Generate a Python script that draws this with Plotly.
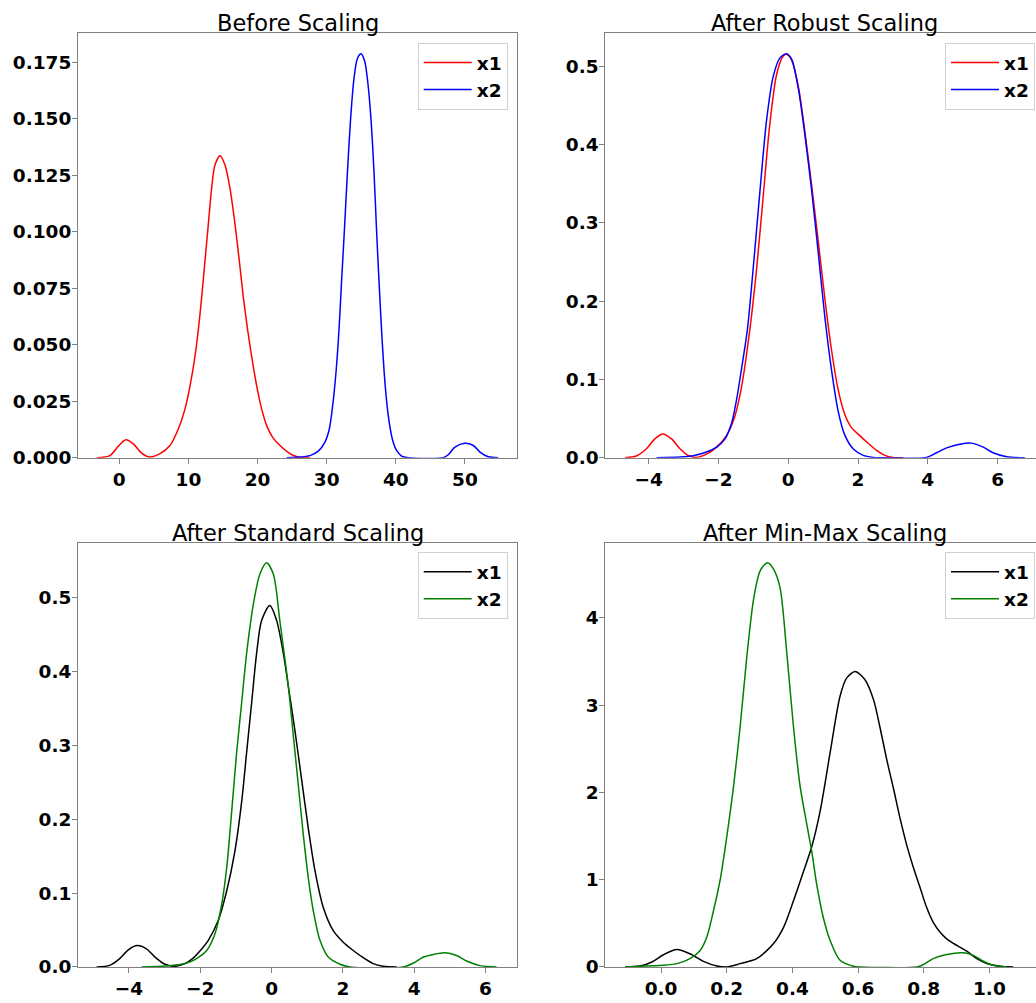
import plotly.graph_objects as go

FONT = "DejaVu Sans"

# ---- Before scaling ----
before_x1_x = [-3.28, -1.35, -0.14, 0.96, 2.03, 3.23, 4.44, 5.89, 7.33, 8.54, 9.50, 10.23, 10.95, 11.43,
               11.92, 12.40, 12.88, 13.36, 13.84, 14.57, 15.29, 16.01, 16.74, 17.36, 17.94, 18.57, 19.15,
               19.88, 20.60, 21.32, 22.19, 23.25, 24.69, 25.6, 26.4, 27.58]
before_x1_y = [0, 0.0009, 0.0051, 0.0079, 0.0061, 0.0020, 0.0003, 0.0018, 0.0054, 0.0127, 0.0215, 0.0317,
               0.0448, 0.0565, 0.0711, 0.0872, 0.1033, 0.1193, 0.1296, 0.1337, 0.1296, 0.1193, 0.1033,
               0.0872, 0.0711, 0.0565, 0.0448, 0.0317, 0.0215, 0.0142, 0.0090, 0.0054, 0.0018, 0.0005,
               0, 0]
before_x2_x = [24.20, 26.13, 27.58, 28.78, 29.75, 30.38, 30.86, 31.34, 31.78, 32.16, 32.55, 32.98, 33.46,
               33.94, 34.43, 34.96, 35.49, 35.97, 36.40, 36.84, 37.22, 37.61, 37.99, 38.43, 38.91, 39.49,
               40.11, 40.84, 41.80, 46.86, 47.58, 48.55, 49.99, 51.21, 52.17, 53.38, 54.82]
before_x2_y = [0, 0.0003, 0.0009, 0.0029, 0.0069, 0.0127, 0.0229, 0.0375, 0.0565, 0.0785, 0.1001, 0.1252,
               0.1501, 0.1676, 0.1766, 0.1788, 0.1756, 0.1654, 0.1501, 0.1267, 0.1001, 0.0755, 0.0536,
               0.0332, 0.0186, 0.0083, 0.0032, 0.0007, 0, 0, 0.0013, 0.0047, 0.0064, 0.0054, 0.0025,
               0.0004, 0]

# ---- After robust scaling ----
robust_x1_x = [-4.68, -4.35, -4.06, -3.82, -3.60, -3.34, -3.10, -2.87, -2.63, -2.34, -2.05, -1.77, -1.53,
               -1.34, -1.10, -0.91, -0.72, -0.53, -0.33, -0.14, -0.03, 0.10, 0.29, 0.48, 0.67, 0.86, 1.05,
               1.24, 1.43, 1.62, 1.81, 2.05, 2.29, 2.53, 2.77, 3.01, 3.30]
robust_x1_y = [0, 0.0021, 0.0114, 0.0240, 0.0304, 0.0240, 0.0114, 0.0030, 0.0004, 0.0046, 0.0135, 0.0282,
               0.0527, 0.0894, 0.1632, 0.2390, 0.3318, 0.4245, 0.4899, 0.5131, 0.5152, 0.5080, 0.4743,
               0.4161, 0.3487, 0.2770, 0.2032, 0.1379, 0.0873, 0.0556, 0.0388, 0.0282, 0.0185, 0.0093,
               0.0030, 0.0004, 0]
robust_x2_x = [-3.77, -3.10, -2.72, -2.34, -2.05, -1.81, -1.62, -1.48, -1.34, -1.17, -1.00, -0.81, -0.62,
               -0.43, -0.24, -0.05, 0.10, 0.29, 0.48, 0.67, 0.86, 1.05, 1.24, 1.43, 1.62, 1.86, 2.15, 2.44,
               2.63, 3.96, 4.25, 4.54, 4.92, 5.25, 5.59, 5.87, 6.26, 6.78]
robust_x2_y = [0, 0.0008, 0.0025, 0.0072, 0.0135, 0.0240, 0.0443, 0.0738, 0.1126, 0.1632, 0.2433, 0.3402,
               0.4309, 0.4869, 0.5105, 0.5160, 0.5089, 0.4718, 0.4119, 0.3423, 0.2622, 0.1800, 0.1126,
               0.0599, 0.0291, 0.0114, 0.0030, 0.0004, 0, 0.0004, 0.0063, 0.0126, 0.0173, 0.0186, 0.0135,
               0.0063, 0.0013, 0]

# ---- After standard scaling ----
standard_x1_x = [-4.91, -4.54, -4.26, -4.02, -3.77, -3.51, -3.27, -2.99, -2.71, -2.43, -2.20, -2.01, -1.78,
                 -1.50, -1.26, -1.03, -0.84, -0.70, -0.56, -0.42, -0.28, -0.05, 0.14, 0.33, 0.47, 0.65,
                 0.84, 1.03, 1.22, 1.45, 1.73, 2.01, 2.29, 2.57, 2.85, 3.13, 3.51]
standard_x1_y = [0, 0.0022, 0.0112, 0.0232, 0.0290, 0.0246, 0.0134, 0.0036, 0.0009, 0.0045, 0.0120, 0.0215,
                 0.0357, 0.0625, 0.1027, 0.1563, 0.2232, 0.2902, 0.3571, 0.4241, 0.4688, 0.4888, 0.4688,
                 0.4241, 0.3795, 0.3214, 0.2545, 0.1875, 0.1295, 0.0804, 0.0491, 0.0335, 0.0223, 0.0125,
                 0.0045, 0.0009, 0]
standard_x2_x = [-3.65, -2.95, -2.53, -2.25, -2.01, -1.82, -1.59, -1.40, -1.26, -1.12, -0.98, -0.84, -0.70,
                 -0.51, -0.33, -0.14, 0.05, 0.23, 0.47, 0.61, 0.75, 0.89, 1.03, 1.17, 1.36, 1.59, 1.92,
                 2.20, 3.70, 3.98, 4.26, 4.54, 4.86, 5.19, 5.47, 5.85, 6.31]
standard_x2_y = [0, 0.0013, 0.0036, 0.0076, 0.0143, 0.0223, 0.0446, 0.0848, 0.1339, 0.2098, 0.2902, 0.3571,
                 0.4241, 0.4911, 0.5313, 0.5469, 0.5313, 0.4688, 0.3795, 0.3125, 0.2455, 0.1786, 0.1205,
                 0.0759, 0.0357, 0.0134, 0.0036, 0, 0, 0.0054, 0.0134, 0.0170, 0.0192, 0.0156, 0.0080,
                 0.0018, 0]

# ---- After min-max scaling ----
minmax_x1_x = [-0.110, -0.064, -0.028, 0.007, 0.048, 0.088, 0.129, 0.170, 0.200, 0.241, 0.291, 0.342,
               0.373, 0.403, 0.434, 0.459, 0.484, 0.515, 0.545, 0.565, 0.591, 0.621, 0.647, 0.667, 0.687,
               0.708, 0.728, 0.748, 0.769, 0.789, 0.809, 0.829, 0.850, 0.870, 0.901, 0.931, 0.962, 0.992,
               1.033, 1.073]
minmax_x1_y = [0, 0.011, 0.057, 0.140, 0.200, 0.151, 0.064, 0.011, 0, 0.038, 0.095, 0.265, 0.454, 0.756,
               1.096, 1.380, 1.777, 2.457, 3.100, 3.308, 3.384, 3.289, 3.062, 2.740, 2.381, 2.041, 1.701,
               1.399, 1.134, 0.907, 0.680, 0.510, 0.397, 0.322, 0.246, 0.181, 0.095, 0.039, 0.008, 0]
minmax_x2_x = [-0.110, -0.044, 0.007, 0.048, 0.088, 0.119, 0.139, 0.159, 0.180, 0.200, 0.221, 0.241,
               0.261, 0.282, 0.302, 0.324, 0.342, 0.362, 0.383, 0.403, 0.423, 0.444, 0.459, 0.474, 0.494,
               0.515, 0.545, 0.586, 0.606, 0.779, 0.799, 0.829, 0.870, 0.921, 0.951, 0.982, 1.012, 1.053]
minmax_x2_y = [0, 0.011, 0.019, 0.038, 0.095, 0.189, 0.340, 0.635, 1.0, 1.49, 2.08, 2.76, 3.55, 4.22,
               4.54, 4.63, 4.56, 4.35, 3.59, 2.76, 2.08, 1.63, 1.32, 0.945, 0.567, 0.302, 0.076, 0.008, 0,
               0, 0.027, 0.095, 0.144, 0.163, 0.133, 0.065, 0.019, 0]

# ---- Panel titles, series names and tick labels ----
titles = ["Before Scaling", "After Robust Scaling", "After Standard Scaling", "After Min-Max Scaling"]
series_names = ["x1", "x2"]

before_xticks = [0, 10, 20, 30, 40, 50]
before_yticks = [0, 0.025, 0.05, 0.075, 0.1, 0.125, 0.15, 0.175]
before_yticktext = ["0.000", "0.025", "0.050", "0.075", "0.100", "0.125", "0.150", "0.175"]
centered_xticks = [-4, -2, 0, 2, 4, 6]
centered_xticktext = ["\u22124", "\u22122", "0", "2", "4", "6"]
density_yticks = [0, 0.1, 0.2, 0.3, 0.4, 0.5]
density_yticktext = ["0.0", "0.1", "0.2", "0.3", "0.4", "0.5"]
minmax_xticks = [0, 0.2, 0.4, 0.6, 0.8, 1.0]
minmax_xticktext = ["0.0", "0.2", "0.4", "0.6", "0.8", "1.0"]
minmax_yticks = [0, 1, 2, 3, 4]

# ---- Figure geometry (pixels) ----
W, H = 1036, 1003
LEFT_X = (78, 517.3)
RIGHT_X = (605.3, 1036)
TOP_Y = (33.3, 462.3)
BOTTOM_Y = (548.3, 976.7)


def xdom(px):
    return [px[0] / W, px[1] / W]


def ydom(py):
    return [1 - py[1] / H, 1 - py[0] / H]


panels = [
    dict(x=LEFT_X, y=TOP_Y, xr=[-5.97, 57.57], yr=[0, 0.188],
         xt=(before_xticks, [str(v) for v in before_xticks]), yt=(before_yticks, before_yticktext),
         series=[(before_x1_x, before_x1_y, "red"), (before_x2_x, before_x2_y, "blue")],
         mirror_y=True, title_cx=(78 + 517.3) / 2),
    dict(x=RIGHT_X, y=TOP_Y, xr=[-5.24, 7.10], yr=[0, 0.5426],
         xt=(centered_xticks, centered_xticktext), yt=(density_yticks, density_yticktext),
         series=[(robust_x1_x, robust_x1_y, "red"), (robust_x2_x, robust_x2_y, "blue")],
         mirror_y=False, title_cx=(605.3 + 1044.6) / 2),
    dict(x=LEFT_X, y=BOTTOM_Y, xr=[-5.43, 6.892], yr=[0, 0.5737],
         xt=(centered_xticks, centered_xticktext), yt=(density_yticks, density_yticktext),
         series=[(standard_x1_x, standard_x1_y, "black"), (standard_x2_x, standard_x2_y, "green")],
         mirror_y=True, title_cx=(78 + 517.3) / 2),
    dict(x=RIGHT_X, y=BOTTOM_Y, xr=[-0.170, 1.142], yr=[0, 4.858],
         xt=(minmax_xticks, minmax_xticktext), yt=(minmax_yticks, [str(v) for v in minmax_yticks]),
         series=[(minmax_x1_x, minmax_x1_y, "black"), (minmax_x2_x, minmax_x2_y, "green")],
         mirror_y=False, title_cx=(605.3 + 1044.6) / 2),
]

legend_right_px = [507.7, 1035.0, 507.7, 1035.0]
legend_top_px = [43.3, 43.3, 557.7, 557.7]

fig = go.Figure()
layout = dict(
    width=W, height=H, margin=dict(l=0, r=0, t=0, b=0),
    paper_bgcolor="white", plot_bgcolor="white", showlegend=True,
    font=dict(family=FONT, color="black"),
)
annotations = []
AXIS_GRAY = "#808080"
tick_font = dict(family=FONT, size=18.5, color="black", weight="bold")

for i, p in enumerate(panels):
    n = i + 1
    suffix = "" if n == 1 else str(n)
    lg = "legend" + suffix
    for (sx, sy, color), name in zip(p["series"], series_names):
        fig.add_trace(go.Scatter(
            x=sx, y=sy, mode="lines", name=name,
            line=dict(color=color, width=1.5, shape="spline", smoothing=0.8),
            xaxis="x" + suffix, yaxis="y" + suffix,
            legend=lg, legendgroup=f"{n}-{name}", hoverinfo="skip",
        ))
    layout["xaxis" + suffix] = dict(
        domain=xdom(p["x"]), range=p["xr"], anchor="y" + suffix,
        tickvals=p["xt"][0], ticktext=p["xt"][1], tickfont=tick_font,
        showgrid=False, zeroline=False, showline=True, linecolor=AXIS_GRAY, linewidth=1,
        mirror=True, ticks="outside", ticklen=5, tickcolor=AXIS_GRAY, tickwidth=1,
    )
    layout["yaxis" + suffix] = dict(
        domain=ydom(p["y"]), range=p["yr"], anchor="x" + suffix,
        tickvals=p["yt"][0], ticktext=p["yt"][1], tickfont=tick_font,
        showgrid=False, zeroline=False, showline=True, linecolor=AXIS_GRAY, linewidth=1,
        mirror=p["mirror_y"], ticks="outside", ticklen=5, tickcolor=AXIS_GRAY, tickwidth=1,
        ticklabelstandoff=-3,
    )
    layout[lg] = dict(
        x=legend_right_px[i] / W, y=1 - legend_top_px[i] / H, xanchor="right", yanchor="top",
        bgcolor="rgba(255,255,255,0.8)", bordercolor="#d0d0d0", borderwidth=1,
        font=dict(family=FONT, size=18.5, color="black", weight="bold"),
        traceorder="grouped", tracegroupgap=0, itemwidth=48,
    )
    annotations.append(dict(
        text=titles[i], x=p["title_cx"] / W, y=1 - p["y"][0] / H, xref="paper", yref="paper",
        xanchor="center", yanchor="bottom", yshift=-5, showarrow=False,
        font=dict(family=FONT, size=22.5, color="black"),
    ))

layout["annotations"] = annotations
fig.update_layout(**layout)
fig.write_html("out.html")
